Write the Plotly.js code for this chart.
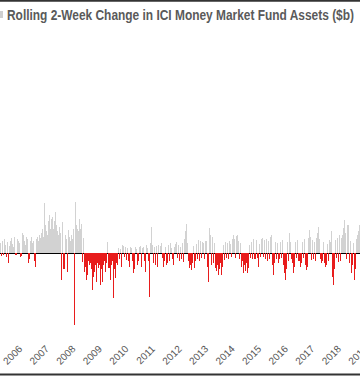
<!DOCTYPE html>
<html><head><meta charset="utf-8">
<script src="https://cdn.plot.ly/plotly-3.0.1.min.js"></script>
<style>html,body{margin:0;padding:0;background:#fff}#chart{width:360px;height:376px}</style>
</head><body><div id="chart"></div>
<script>
// Rolling 2-week change in ICI money market fund assets ($b), sampled every two weeks
const years = [2006,2007,2008,2009,2010,2011,2012,2013,2014,2015,2016,2017,2018,2019];
const chg2006 = [25,-8,30,-6,35,20,-10,28,-26,18,30,38,22,15,40,-5,35,30,25,-11,-8,50,45,30,20,40];
const chg2007 = [35,-26,-15,30,40,25,30,-20,-34,35,40,30,45,38,50,60,40,124,70,55,45,80,95,60,85,90];
const chg2008 = [60,80,102,70,55,45,65,50,-68,77,-40,45,35,-47,57,40,30,45,35,60,-181,127,70,60,55,86];
const chg2009 = [60,73,-22,37,-47,-35,-67,-55,-20,-30,-25,-40,-92,-60,-47,-30,-72,-25,-38,-30,-80,-40,-72,-30,-20,-47];
const chg2010 = [-25,28,-38,-67,-30,-20,-113,-40,-63,-25,-30,12,-15,10,-34,20,18,-10,15,-17,12,-20,-34,15,12,-20];
const chg2011 = [-51,-40,15,10,-30,-20,15,18,-34,12,15,-20,-47,20,12,-20,-109,25,66,20,-25,15,-30,18,-35,20];
const chg2012 = [18,25,-12,-34,-20,15,-30,-25,20,-20,25,12,-15,-30,15,22,28,-12,20,-20,15,-15,25,-22,35,55];
const chg2013 = [72,25,-20,-38,-30,-42,-25,18,-38,-20,22,-15,32,-20,30,-12,28,25,-15,30,-35,-73,62,45,-30,40];
const chg2014 = [-25,25,-38,-45,-30,-55,-40,-25,-56,-35,20,-17,28,-12,25,-15,30,22,-10,35,45,35,-12,42,45,30];
const chg2015 = [-15,25,-35,-20,-50,-30,-45,-25,-50,-38,20,-12,28,-15,35,-15,32,-12,-34,22,-10,35,38,-10,32,-15];
const chg2016 = [35,-20,30,-15,40,45,-30,-55,-25,28,-15,25,-26,-15,28,-12,32,-30,-50,-67,-40,28,-20,50,28,-15];
const chg2017 = [-25,-50,-35,28,-12,32,-20,-34,-25,28,-12,35,-30,-42,-35,38,58,40,-18,32,-15,28,-20,38,50,66];
const chg2018 = [35,-15,-26,-20,28,-25,-34,-30,22,-20,32,28,55,-60,-80,-40,32,-12,38,-22,45,-20,38,45,62,82];
const chg2019 = [50,-15,70,-26,30,-50,-30,25,-67,-40,35,45,55,70,40,50];
const tickLabels = ['2006','2007','2008','2009','2010','2011','2012','2013','2014','2015','2016','2017','2018','2019'];
const titleText = 'Rolling 2-Week Change in ICI Money Market Fund Assets ($b)';

const series = [chg2006,chg2007,chg2008,chg2009,chg2010,chg2011,chg2012,chg2013,chg2014,chg2015,chg2016,chg2017,chg2018,chg2019];
const xs = [], ys = [], cols = [];
years.forEach((yr, k) => {
  series[k].forEach((v, i) => {
    xs.push(new Date(Date.UTC(yr, 0, 4 + 14 * i)).toISOString().slice(0, 10));
    ys.push(v);
    cols.push(v < 0 ? '#e81c1c' : '#d2d2d2');
  });
});

const H = 376, T = 30, B = 36, PH = H - T - B;
const py = p => (H - B - p) / PH;

const trace = {
  type: 'bar', x: xs, y: ys,
  marker: {color: cols, line: {width: 0}},
  hoverinfo: 'x+y', showlegend: false
};

const layout = {
  width: 360, height: 376,
  margin: {l: 0, r: 0, t: T, b: B, pad: 0},
  paper_bgcolor: '#fff', plot_bgcolor: '#fff',
  bargap: 0,
  title: {
    text: '<b>' + titleText + '</b>',
    font: {family: '"Liberation Sans", Arial, sans-serif', size: 14, color: '#5a5a5a'},
    xref: 'container', yref: 'container', x: 7/360, xanchor: 'left', y: 1 - 15/376, yanchor: 'middle'
  },
  xaxis: {
    type: 'date', range: ['2005-12-25', '2019-07-16'],
    tickvals: tickLabels.map(t => t + '-01-01'), ticktext: tickLabels,
    tickangle: -45, ticklabelshift: 19, ticks: '', ticklabeloverflow: 'allow',
    tickfont: {family: '"Liberation Sans", Arial, sans-serif', size: 10, color: '#555'},
    showgrid: false, zeroline: false, showline: false
  },
  yaxis: {
    range: [-217.5, 557.5], showticklabels: false, ticks: '',
    showgrid: false, zeroline: true, zerolinecolor: '#000', zerolinewidth: 1, showline: false
  },
  shapes: [
    {type: 'line', xref: 'paper', yref: 'paper', x0: 0, x1: 1, y0: py(0.75), y1: py(0.75), line: {color: '#333', width: 2}},
    {type: 'line', xref: 'paper', yref: 'paper', x0: 0, x1: 1, y0: py(374.5), y1: py(374.5), line: {color: '#333', width: 2}},
    {type: 'rect', xref: 'paper', yref: 'paper', x0: 0, x1: 3/360, y0: py(18), y1: py(11), fillcolor: '#cfcfcf', line: {width: 0}}
  ]
};

Plotly.newPlot('chart', [trace], layout, {displayModeBar: false, staticPlot: true}).then(gd => {
  const t = gd.querySelector('.gtitle');
  if (t) {
    t.setAttribute('textLength', '347');
    t.setAttribute('lengthAdjust', 'spacingAndGlyphs');
  }
});
</script></body></html>
